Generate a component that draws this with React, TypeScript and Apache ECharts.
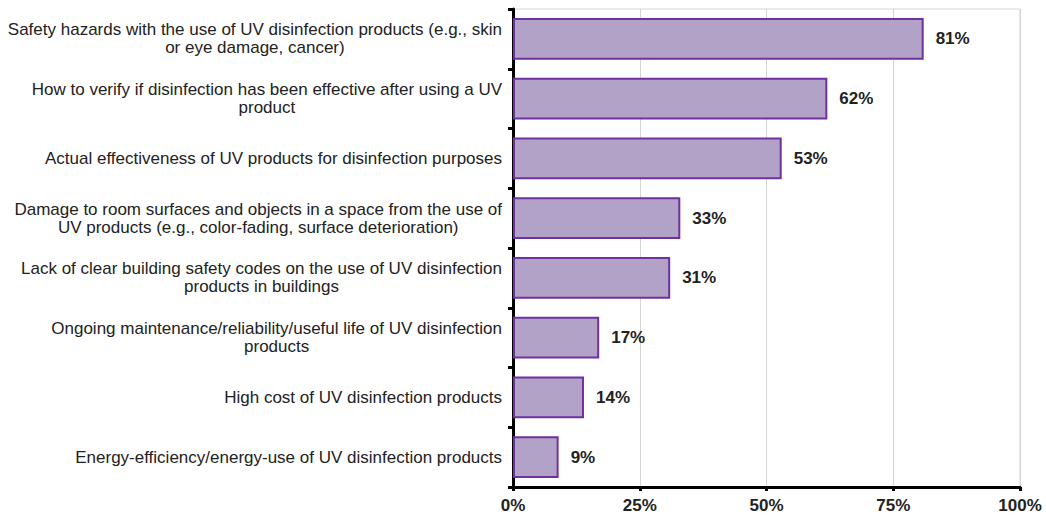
import React, { useEffect, useRef } from "react";
import * as echarts from "echarts";

const categories: string[][] = [
  ["Safety hazards with the use of UV disinfection products (e.g., skin", "or eye damage, cancer)"],
  ["How to verify if disinfection has been effective after using a UV", "product"],
  ["Actual effectiveness of UV products for disinfection purposes"],
  ["Damage to room surfaces and objects in a space from the use of", "UV products (e.g., color-fading, surface deterioration)"],
  ["Lack of clear building safety codes on the use of UV disinfection", "products in buildings"],
  ["Ongoing maintenance/reliability/useful life of UV disinfection", "products"],
  ["High cost of UV disinfection products"],
  ["Energy-efficiency/energy-use of UV disinfection products"],
];
const values: number[] = [81, 62, 53, 33, 31, 17, 14, 9];
const xTicks: number[] = [0, 25, 50, 75, 100];

const FONT = "Liberation Sans, Arial, sans-serif";

export default function App() {
  const ref = useRef<HTMLDivElement>(null);
  useEffect(() => {
    if (!ref.current) return;
    const chart = echarts.init(ref.current, null, { renderer: "svg" });
    chart.setOption({
      animation: false,
      grid: {
        left: 513,
        right: 26,
        top: 9,
        bottom: 29,
        show: true,
        borderColor: "#d4d4d4",
        borderWidth: 1,
      },
      xAxis: {
        type: "value",
        min: xTicks[0],
        max: xTicks[xTicks.length - 1],
        interval: 25,
        axisLine: { show: true, lineStyle: { color: "#000", width: 3 } },
        axisTick: { show: true, length: 4, lineStyle: { color: "#000", width: 3 } },
        minorTick: { show: true, splitNumber: 5, length: 2, lineStyle: { color: "#000", width: 2 } },
        splitLine: { show: true, lineStyle: { color: "#d4d4d4", width: 1 } },
        axisLabel: {
          formatter: (v: number) => v + "%",
          fontFamily: FONT,
          fontSize: 17,
          fontWeight: "bold",
          color: "#222",
          margin: 10,
        },
      },
      yAxis: {
        type: "category",
        inverse: true,
        data: categories.map((c) => c.join("\n")),
        axisLine: { show: true, lineStyle: { color: "#000", width: 3 } },
        axisTick: { show: true, length: 5, lineStyle: { color: "#000", width: 3 } },
        splitLine: { show: false },
        axisLabel: {
          margin: 11,
          formatter: (v: string) => v.split("\n").map((l) => "{c|" + l + "}").join("\n"),
          rich: {
            c: {
              align: "center",
              fontFamily: FONT,
              fontSize: 17,
              lineHeight: 18,
              color: "#222",
            },
          },
          align: "right",
        },
      },
      series: [
        {
          type: "bar",
          data: values,
          barCategoryGap: "30%",
          itemStyle: { color: "#b3a2c7", borderColor: "#7030a0", borderWidth: 2 },
          label: {
            show: true,
            position: "right",
            distance: 12,
            formatter: (p: any) => p.value + "%",
            fontFamily: FONT,
            fontSize: 17,
            fontWeight: "bold",
            color: "#222",
          },
        },
      ],
    });
    return () => chart.dispose();
  }, []);
  return <div ref={ref} style={{ width: 1046, height: 516, position: "absolute", left: 0, top: 0 }} />;
}
